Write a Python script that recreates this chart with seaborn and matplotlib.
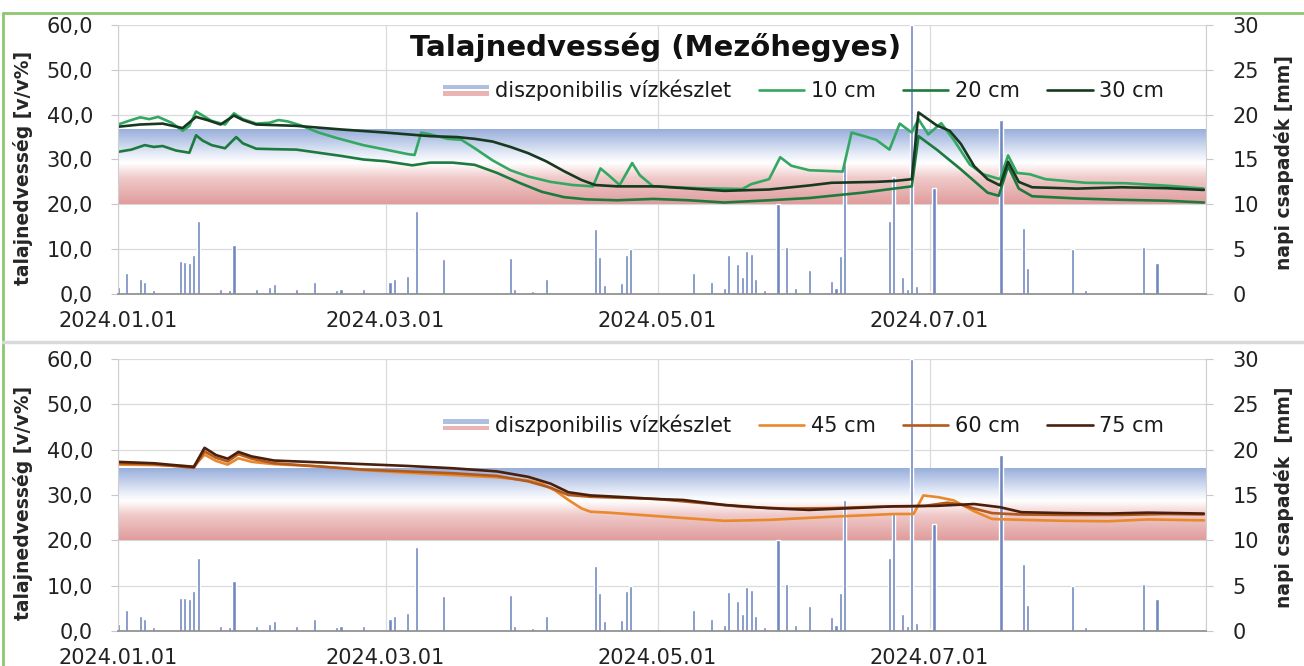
import numpy as np
import pandas as pd
import matplotlib
matplotlib.use("Agg")
import matplotlib.pyplot as plt
from matplotlib.colors import LinearSegmentedColormap
from matplotlib.patches import Rectangle
from matplotlib.lines import Line2D
from matplotlib.ticker import FuncFormatter
import seaborn as sns

# ---- adatok (nap = napok száma 2024.01.01-től) ----
start = pd.Timestamp("2024-01-01")
end = pd.Timestamp("2024-09-01")
tick_dates = ["2024-01-01", "2024-03-01", "2024-05-01", "2024-07-01", "2024-09-01"]
tick_labels = ["2024.01.01", "2024.03.01", "2024.05.01", "2024.07.01", ""]

# napi csapadék [mm]
rain_day = [0, 2, 5, 6, 8, 14, 15, 16, 17, 18, 23, 25, 26, 31, 34, 35, 40, 44, 49, 50, 55,
            61, 62, 65, 67, 73, 76, 88, 89, 93, 96, 107, 108, 109, 113, 114, 115,
            129, 133, 136, 137, 139, 140, 141, 142, 143, 145, 148, 150, 152, 155, 160, 161,
            162, 163, 173, 174, 176, 177, 178, 179, 182, 183, 198, 203, 204, 214, 217, 230, 233]
rain_mm = [0.75, 2.35, 1.7, 1.3, 0.4, 3.65, 3.6, 3.5, 4.4, 8.1, 0.55, 0.4, 5.5, 0.6, 0.8, 1.1, 0.5, 1.35, 0.4, 0.5, 0.6,
           1.3, 1.7, 2.0, 9.25, 3.85, 0.15, 4.0, 0.5, 0.3, 1.7, 7.2, 4.15, 1.05, 1.2, 4.4, 5.0,
           2.35, 1.3, 0.7, 4.3, 3.3, 1.9, 4.8, 4.5, 1.7, 0.4, 10.0, 5.2, 0.7, 2.7, 1.5, 0.7,
           4.2, 14.5, 8.1, 13.0, 1.9, 0.55, 30.0, 0.85, 0.2, 11.85, 19.4, 7.4, 2.9, 5.0, 0.4, 5.2, 3.5]

# talajnedvesség [v/v%]
cm10_day = [0, 3, 5, 7, 9, 12, 14.5, 16, 17.5, 19, 21, 24, 26, 28, 31, 34, 36, 38, 41, 45, 49, 55, 60, 65,
            66.5, 68, 70, 74, 77, 80, 84, 88, 92, 97, 102, 106.5, 108.2, 110, 112.5, 115.3, 117, 120,
            130, 140, 142, 146, 148.5, 151, 155, 162.5, 164.5, 167, 170, 173, 175.3, 178, 179.5, 181.7,
            184.6, 187.4, 191, 194, 197.8, 199.6, 201.6, 204.5, 208, 217, 226, 236, 243.5]
cm10_val = [37.8, 38.8, 39.4, 39.0, 39.5, 38.2, 36.4, 37.5, 40.7, 39.8, 38.6, 37.8, 40.3, 39.0, 38.0, 38.2, 38.8, 38.5,
            37.6, 36.0, 34.8, 33.2, 32.2, 31.2, 31.0, 36.0, 35.6, 34.6, 34.4, 32.5, 29.8, 27.6, 26.2, 25.0, 24.3,
            24.0, 28.0, 26.5, 24.3, 29.2, 26.5, 24.0, 23.6, 23.4, 24.5, 25.6, 30.5, 28.6, 27.6, 27.3, 36.0, 35.3,
            34.4, 32.2, 38.0, 36.0, 39.0, 35.6, 38.1, 34.4, 28.9, 26.7, 25.6, 30.9, 27.0, 26.7, 25.6, 24.8, 24.7,
            24.1, 23.5]
cm20_day = [0, 3, 6, 8, 10, 13, 16, 17.5, 19, 21, 24, 26.5, 28, 31, 35, 40, 45, 50, 55, 60, 66, 70, 75, 80,
            85, 90, 95, 100, 105, 112, 120, 128, 136, 146, 155, 160, 167, 174, 178, 179.5, 183.6, 189, 195,
            197.5, 199.6, 202, 205, 215, 225, 235, 243.5]
cm20_val = [31.7, 32.2, 33.2, 32.8, 33.0, 32.0, 31.5, 35.4, 34.2, 33.2, 32.5, 35.0, 33.6, 32.4, 32.3, 32.2, 31.5,
            30.8, 30.0, 29.6, 28.7, 29.3, 29.3, 28.8, 27.0, 24.8, 22.8, 21.6, 21.1, 20.9, 21.2, 20.9, 20.4, 20.9,
            21.4, 21.9, 22.6, 23.5, 24.0, 35.2, 32.2, 27.8, 22.6, 21.9, 28.5, 23.5, 21.8, 21.3, 21.0, 20.8, 20.4]
cm30_day = [0, 5, 10, 14.5, 17.5, 20, 23, 26, 28, 31, 40, 50, 60, 70, 76, 80, 84, 88, 92, 96, 100, 104, 107,
            112, 121, 130, 136, 146, 155, 160, 170, 174, 178, 179.5, 183.6, 186.5, 189, 192, 195, 197.8,
            199.6, 202, 205, 215, 225, 235, 243.5]
cm30_val = [37.3, 37.8, 38.0, 37.0, 39.5, 38.8, 37.8, 39.8, 38.8, 37.8, 37.5, 36.7, 36.0, 35.2, 35.0, 34.6, 34.0,
            32.8, 31.4, 29.6, 27.4, 25.4, 24.3, 24.0, 24.0, 23.4, 23.0, 23.3, 24.2, 24.8, 25.0, 25.2, 25.6, 40.5,
            37.6, 36.4, 33.5, 28.5, 25.6, 24.2, 29.5, 25.0, 23.8, 23.5, 23.8, 23.6, 23.2]

cm45_day = [0, 8, 17, 19.4, 22, 24.6, 27, 30, 35, 45, 55, 65, 75, 85, 92, 95, 98, 101, 104, 106, 110, 117,
            127, 136, 146, 160, 174, 178.4, 180.6, 184, 187.4, 192, 196, 203, 212, 222, 231, 243.5]
cm45_val = [36.7, 36.6, 36.3, 38.9, 37.5, 36.7, 38.1, 37.3, 36.8, 36.3, 35.5, 34.9, 34.4, 33.9, 33.2, 32.5, 31.0,
            28.9, 27.0, 26.3, 26.1, 25.6, 24.9, 24.3, 24.5, 25.2, 25.8, 25.8, 29.9, 29.5, 28.8, 26.4, 24.7, 24.5,
            24.3, 24.2, 24.6, 24.4]
cm60_day = [0, 8, 17, 19.4, 22, 24.6, 27, 30, 35, 45, 55, 65, 75, 85, 92, 97, 101, 106, 112, 121, 130, 140,
            150, 160, 170, 178, 181, 186, 189, 192, 196, 202, 212, 225, 235, 243.5]
cm60_val = [37.0, 36.8, 36.0, 39.6, 38.2, 37.4, 39.0, 38.0, 37.0, 36.3, 35.6, 35.2, 34.8, 34.2, 33.0, 31.6, 30.0,
            29.6, 29.4, 29.1, 28.3, 27.4, 27.0, 27.1, 27.4, 27.5, 27.6, 28.3, 27.9, 27.0, 26.0, 25.7, 25.6, 25.6,
            25.8, 25.7]
cm75_day = [0, 8, 17, 19.4, 22, 24.6, 27, 30, 35, 45, 55, 65, 75, 85, 92, 97, 101, 106, 112, 121, 126.7, 136,
            145.7, 155, 164.6, 174, 183.6, 192, 197.8, 202.6, 212, 222, 231, 243.5]
cm75_val = [37.3, 37.0, 36.2, 40.4, 38.8, 38.0, 39.5, 38.5, 37.6, 37.2, 36.8, 36.4, 35.9, 35.2, 34.0, 32.5, 30.6,
            29.9, 29.6, 29.1, 28.9, 27.8, 27.1, 26.7, 27.1, 27.5, 27.6, 28.0, 27.3, 26.2, 26.0, 25.9, 26.1, 25.9]

band_lo = 20
band_hi = [36.7, 35.7]

top_names = ["10 cm", "20 cm", "30 cm"]
top_colors = ["#33a862", "#1d7a3f", "#17391f"]
bot_names = ["45 cm", "60 cm", "75 cm"]
bot_colors = ["#e8892c", "#b35a1c", "#4a1f0c"]


def to_dates(days):
    return start + pd.to_timedelta(np.asarray(days, dtype=float), unit="D")


sns.set_style("white")
plt.rcParams["font.family"] = ["DejaVu Sans"]
plt.rcParams["text.color"] = "#1a1a1a"

band_cmap = LinearSegmentedColormap.from_list(
    "band", [(0.0, "#e09c9c"), (0.35, "#f0caca"), (0.5, "#fdf3f3"), (0.55, "#ffffff"),
             (0.68, "#e4eaf6"), (1.0, "#98aedb")])


class BandHandler:
    def legend_artist(self, legend, orig_handle, fontsize, handlebox):
        x0, y0 = handlebox.xdescent, handlebox.ydescent
        w, h = handlebox.width, handlebox.height
        tr = handlebox.get_transform()
        hi = Rectangle((x0, y0 + 0.55 * h), w, 0.3 * h, fc="#aebfe0", ec="none", transform=tr)
        lo = Rectangle((x0, y0 + 0.1 * h), w, 0.3 * h, fc="#e8b4b4", ec="none", transform=tr)
        handlebox.add_artist(hi)
        handlebox.add_artist(lo)
        return hi


def panel(rect, series, names, colors, hi, rlabel, title=None):
    ax = fig.add_axes(rect)
    ax2 = ax.twinx()
    ax.set_zorder(ax2.get_zorder() + 1)
    ax.patch.set_visible(False)

    # csapadék oszlopok + sáv a jobb tengelyen (hátul)
    ax2.bar(to_dates(rain_day), rain_mm, width=0.7, color="#7088c2", zorder=3)
    k = 30 / 60
    x0 = matplotlib.dates.date2num(start)
    x1 = matplotlib.dates.date2num(end)
    grad = np.linspace(0, 1, 256).reshape(-1, 1)
    ax2.imshow(grad, extent=[x0, x1, band_lo * k, hi * k], origin="lower", aspect="auto",
               cmap=band_cmap, zorder=2)
    ax2.xaxis.set_visible(True)
    ax2.tick_params(axis="x", bottom=False, labelbottom=False, top=False, labeltop=False)
    ax2.grid(True, color="#dadada", lw=0.9, zorder=0)
    ax2.set_axisbelow(True)
    ax2.set_ylim(0, 30)
    ax2.set_yticks(range(0, 31, 5))

    for (d, v), n, c in zip(series, names, colors):
        sns.lineplot(x=to_dates(d), y=v, ax=ax, color=c, lw=1.9, legend=False)

    ax.set_xlim(start, end)
    ax.set_xticks(pd.to_datetime(tick_dates))
    ax.set_xticklabels(tick_labels)
    ax.set_ylim(0, 60)
    ax.set_yticks(range(0, 61, 10))
    ax.yaxis.set_major_formatter(FuncFormatter(lambda v, _: f"{v:.1f}".replace(".", ",")))
    ax.set_xlabel("")
    ax.set_ylabel("talajnedvesség [v/v%]", fontsize=13.5, fontweight="bold")
    ax.yaxis.set_label_coords(-0.078, 0.47)
    ax2.set_ylabel(rlabel, fontsize=13.5, fontweight="bold")
    ax2.yaxis.set_label_coords(1.062, 0.49)

    for s in ["top", "right"]:
        ax.spines[s].set_visible(False)
    for s in ["top", "left", "bottom"]:
        ax2.spines[s].set_visible(False)
    ax.spines["left"].set_color("#cfcfcf")
    ax.spines["bottom"].set_color("#8a8a8a")
    ax.spines["bottom"].set_linewidth(1.2)
    ax2.spines["right"].set_color("#cfcfcf")
    ax.tick_params(axis="y", length=5, color="#c8c8c8", pad=13, labelsize=15, labelcolor="#222222")
    ax.tick_params(axis="x", length=4, color="#8a8a8a", pad=8, labelsize=15, labelcolor="#222222")
    ax2.tick_params(axis="y", length=5, color="#c8c8c8", pad=14, labelsize=15, labelcolor="#222222")

    handles = [Rectangle((0, 0), 1, 1)] + [Line2D([], [], color=c, lw=1.9) for c in colors]
    ax.legend(handles, ["diszponibilis vízkészlet"] + names,
              handler_map={Rectangle: BandHandler()}, ncol=4, loc="center",
              bbox_to_anchor=(0.63, 0.757), frameon=False, fontsize=15,
              handlelength=2.2, handletextpad=0.3, columnspacing=1.3)
    if title:
        ax.text(0.494, 0.918, title, transform=ax.transAxes, ha="center", va="center",
                fontsize=21, fontweight="bold", color="#111111")
    return ax


fig = plt.figure(figsize=(13.04, 6.66), dpi=100)

panel([0.0905, 0.5586, 0.8344, 0.4039],
      [(cm10_day, cm10_val), (cm20_day, cm20_val), (cm30_day, cm30_val)],
      top_names, top_colors, band_hi[0], "napi csapadék [mm]",
      title="Talajnedvesség (Mezőhegyes)")
panel([0.0905, 0.0526, 0.8344, 0.4084],
      [(cm45_day, cm45_val), (cm60_day, cm60_val), (cm75_day, cm75_val)],
      bot_names, bot_colors, band_hi[1], "napi csapadék  [mm]")

# keret és elválasztó
fig.add_artist(Line2D([0.0023, 1.0], [0.9805, 0.9805], transform=fig.transFigure, color="#8cc771", lw=2))
fig.add_artist(Line2D([0.0023, 0.0023], [0.0, 0.9805], transform=fig.transFigure, color="#8cc771", lw=2))
fig.add_artist(Line2D([0.0023, 1.0], [0.4865, 0.4865], transform=fig.transFigure, color="#d9d9d9", lw=2.5))

fig.savefig("out.png", dpi=100)
